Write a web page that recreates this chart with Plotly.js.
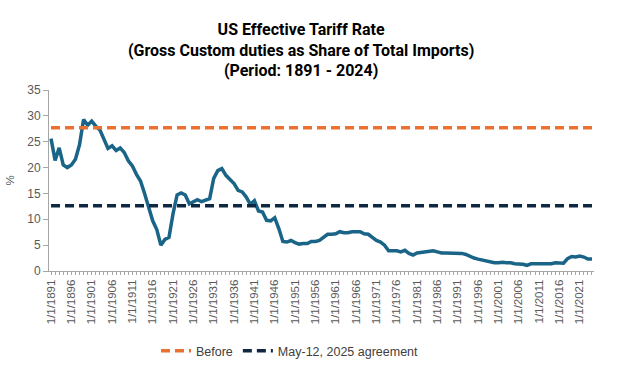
<!DOCTYPE html>
<html>
<head>
<meta charset="utf-8">
<script src="https://cdn.plot.ly/plotly-3.0.1.min.js"></script>
<style>html,body{margin:0;padding:0;background:#fff;}#chart{width:617px;height:366px;}</style>
</head>
<body>
<div id="chart"></div>
<script>
// Years 1891..2024 (categories)
const firstYear = 1891;
const lastYear = 2024;
const years = [];
for (let y = firstYear; y <= lastYear; y++) years.push(y);

// US effective tariff rate (%), 1891-2024
const tariffRate = [
  25.6, 21.4, 23.8, 20.5, 20.0, 20.5, 21.6, 24.4, 29.3, 28.2, // 1891-1900
  29.0, 28.0, 27.3, 25.6, 23.7, 24.2, 23.3, 23.8, 22.9, 21.3, // 1901-1910
  20.3, 18.7, 17.4, 15.0, 12.4, 9.7, 8.0, 5.0, 6.1, 6.5,      // 1911-1920
  11.1, 14.7, 15.1, 14.7, 13.0, 13.5, 13.8, 13.4, 13.7, 14.0, // 1921-1930
  17.9, 19.4, 19.8, 18.5, 17.7, 16.9, 15.6, 15.3, 14.3, 12.9, // 1931-1940
  13.6, 11.6, 11.4, 9.8, 9.7, 10.3, 8.2, 5.7, 5.6, 5.9,       // 1941-1950
  5.5, 5.2, 5.3, 5.3, 5.7, 5.7, 5.9, 6.5, 7.1, 7.1,           // 1951-1960
  7.2, 7.6, 7.4, 7.4, 7.6, 7.6, 7.6, 7.2, 7.1, 6.5,           // 1961-1970
  5.9, 5.6, 5.0, 3.9, 3.9, 3.9, 3.7, 4.0, 3.4, 3.1,           // 1971-1980
  3.5, 3.6, 3.7, 3.8, 3.9, 3.7, 3.5, 3.5, 3.5, 3.4,           // 1981-1990
  3.5, 3.4, 3.2, 2.8, 2.5, 2.3, 2.1, 1.9, 1.7, 1.6,           // 1991-2000
  1.6, 1.7, 1.6, 1.6, 1.4, 1.4, 1.3, 1.1, 1.4, 1.4,           // 2001-2010
  1.4, 1.4, 1.4, 1.4, 1.6, 1.6, 1.5, 2.4, 2.8, 2.7,           // 2011-2020
  2.9, 2.7, 2.3, 2.3                                          // 2021-2024
];

// Reference levels
const beforeRate = 27.7;
const agreementRate = 12.6;

// Tick labels every 5 years
const tickYears = years.filter(y => (y - firstYear) % 5 === 0);
const tickLabels = tickYears.map(y => '1/1/' + y);

const traces = [
  {
    x: years, y: tariffRate, type: 'scatter', mode: 'lines',
    name: 'US Effective Tariff Rate', showlegend: false,
    line: {color: '#1A6488', width: 3.5}
  },
  {
    x: years, y: years.map(() => beforeRate), type: 'scatter', mode: 'lines',
    name: 'Before',
    line: {color: '#E97132', width: 3.5, dash: '9px,5px'}
  },
  {
    x: years, y: years.map(() => agreementRate), type: 'scatter', mode: 'lines',
    name: 'May-12, 2025 agreement',
    line: {color: '#0E2841', width: 3.5, dash: '9px,5px'}
  }
];

const axisColor = '#A6A6A6';
const tickFont = {family: 'Liberation Sans, Arial, sans-serif', size: 12, color: '#595959'};

const layout = {
  width: 617, height: 366,
  paper_bgcolor: '#ffffff', plot_bgcolor: '#ffffff',
  margin: {l: 49, r: 23, t: 90, b: 95},
  title: {
    text: 'US Effective Tariff Rate<br>(Gross Custom duties as Share of Total Imports)<br>(Period: 1891 - 2024)',
    font: {family: 'Roboto, Arial, sans-serif', size: 16, color: '#000000', weight: 'bold'},
    x: 0.488, xanchor: 'center', xref: 'container',
    y: 0.905, yanchor: 'top', yref: 'container'
  },
  xaxis: {
    range: [firstYear - 0.5, lastYear + 0.5],
    tickmode: 'array', tickvals: tickYears, ticktext: tickLabels,
    tickangle: -90, tickfont: {family: 'Liberation Sans, Arial, sans-serif', size: 11.5, color: '#595959'},
    ticks: 'outside', ticklen: 3, tickcolor: axisColor, tickwidth: 1,
    minor: {ticks: 'outside', ticklen: 3, tickcolor: axisColor, dtick: 1, tick0: firstYear, showgrid: false},
    showline: true, linecolor: axisColor, linewidth: 1,
    showgrid: false, zeroline: false, fixedrange: true
  },
  yaxis: {
    range: [0, 35], dtick: 5, tick0: 0,
    tickfont: tickFont,
    ticks: 'outside', ticklen: 5, tickcolor: axisColor,
    showline: true, linecolor: axisColor, linewidth: 1,
    showgrid: false, zeroline: false,
    title: {text: '%', font: {family: 'Liberation Sans, Arial, sans-serif', size: 11.5, color: '#595959'}, standoff: 10},
    fixedrange: true
  },
  legend: {
    orientation: 'h', x: 0.47, xanchor: 'center', xref: 'container',
    y: 0.0, yanchor: 'bottom', yref: 'container',
    font: {family: 'Liberation Sans, Arial, sans-serif', size: 12.5, color: '#404040'},
    itemwidth: 30, tracegroupgap: 0
  },
  showlegend: true
};

Plotly.newPlot('chart', traces, layout, {displayModeBar: false, staticPlot: true});
</script>
</body>
</html>
